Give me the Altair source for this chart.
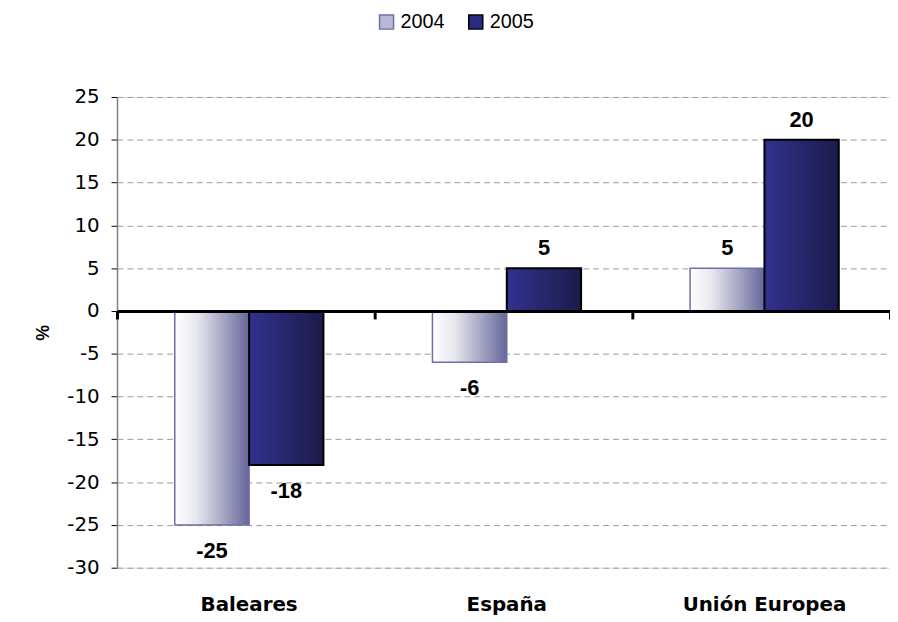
import altair as alt
import pandas as pd

regions = ["Baleares", "España", "Unión Europea"]
years = ["2004", "2005"]
v2004 = [-25, -6, 5]
v2005 = [-18, 5, 20]
y_ticks = [-30, -25, -20, -15, -10, -5, 0, 5, 10, 15, 20, 25]

rows = []
for r, a, b in zip(regions, v2004, v2005):
    rows.append({"region": r, "year": "2004", "value": a, "label": str(a)})
    rows.append({"region": r, "year": "2005", "value": b, "label": str(b)})
df = pd.DataFrame(rows)

W, H = 780, 475
FONT = "Liberation Sans"
WIDE = "DejaVu Sans"

xscale = alt.Scale(domain=regions, paddingInner=0.423, paddingOuter=0.2115, align=0.53)
yscale = alt.Scale(domain=[-30, 25], nice=False, zero=True)
xo = alt.XOffset("year:N", scale=alt.Scale(domain=years, paddingInner=0, paddingOuter=0))

xA = alt.X("region:N", scale=xscale, sort=regions,
           axis=alt.Axis(title=None, labelAngle=0, ticks=False, domain=False,
                         labelFontWeight="bold", labelFontSize=20, labelPadding=27,
                         labelColor="black", labelFont=WIDE, maxExtent=0, minExtent=0))
xB = alt.X("region:N", scale=alt.Scale(domain=regions, paddingInner=0, paddingOuter=0),
           sort=regions,
           axis=alt.Axis(title=None, labels=False, orient="bottom", offset=-259,
                         domainColor="black", domainWidth=3, tickColor="black",
                         tickWidth=3, tickSize=8, tickBand="extent", zindex=2))
yE = alt.Y("value:Q", scale=yscale,
           axis=alt.Axis(values=y_ticks, title="%", grid=True, gridDash=[6, 4],
                         gridColor="#9a9a9a", gridWidth=1, domainColor="#808080",
                         domainWidth=1.5, tickColor="#000000", tickSize=6, labelFontSize=20,
                         labelColor="black", labelPadding=12, labelFont=WIDE,
                         labelExpr="toString(datum.value)",
                         titleFontSize=18, titleFontWeight="bold", titlePadding=14,
                         titleColor="black", titleFont=FONT))

grad2004 = alt.LinearGradient(gradient="linear", x1=0, y1=0, x2=1, y2=0,
                              stops=[alt.GradientStop(offset=0, color="#ffffff"),
                                     alt.GradientStop(offset=0.3, color="#e6e6ee"),
                                     alt.GradientStop(offset=1, color="#66669a")])
grad2005 = alt.LinearGradient(gradient="linear", x1=0, y1=0, x2=1, y2=0,
                              stops=[alt.GradientStop(offset=0, color="#32328f"),
                                     alt.GradientStop(offset=1, color="#1b1b4a")])

base = alt.Chart(df)

bars2004 = base.transform_filter(alt.datum.year == "2004").mark_bar(
    fill=grad2004, stroke="#6e6eaa", strokeWidth=1.5
).encode(x=xA, xOffset=xo, y=yE)

bars2005 = base.transform_filter(alt.datum.year == "2005").mark_bar(
    fill=grad2005, stroke="#000000", strokeWidth=2
).encode(x=xA, xOffset=xo, y=yE)

txt_pos = base.transform_filter(alt.datum.value >= 0).mark_text(
    baseline="bottom", dy=-8, fontSize=22, fontWeight="bold", font=FONT, color="black"
).encode(x=xA, xOffset=xo, y=yE, text=alt.Text("label:N"))

txt_neg = base.transform_filter(alt.datum.value < 0).mark_text(
    baseline="top", dy=16, fontSize=22, fontWeight="bold", font=FONT, color="black"
).encode(x=xA, xOffset=xo, y=yE, text=alt.Text("label:N"))

leg = dict(orient="none", legendX=262, legendY=-86, direction="horizontal", title=None,
           symbolType="square", symbolSize=200, symbolStrokeWidth=1.5, symbolOpacity=1,
           labelFontSize=20, labelFont=FONT, labelColor="black", labelOffset=4,
           columnPadding=20)

legend_layer = base.mark_point(filled=True, opacity=0, size=1).encode(
    x=xA, xOffset=xo, y=yE,
    fill=alt.Fill("year:N", scale=alt.Scale(domain=years, range=["#b8b8d6", "#2a2a80"]),
                  legend=alt.Legend(**leg)),
    stroke=alt.Stroke("year:N", scale=alt.Scale(domain=years, range=["#6e6eaa", "#000000"]),
                      legend=alt.Legend(**leg)),
)

groupA = alt.layer(bars2004, bars2005, txt_pos, txt_neg, legend_layer)

zero_axis = base.transform_filter(alt.datum.year == "2005").mark_bar(opacity=0).encode(
    x=xB, y=yE)

chart = alt.layer(groupA, zero_axis).resolve_scale(x="independent").resolve_axis(
    x="independent").properties(
    width=W, height=H,
    autosize=alt.AutoSizeParams(type="none"),
    padding={"left": 110, "top": 87, "right": 0, "bottom": 50},
).configure_view(stroke=None).configure(font=FONT)

chart.save("out.html", embed_options={"renderer": "svg", "actions": False})
